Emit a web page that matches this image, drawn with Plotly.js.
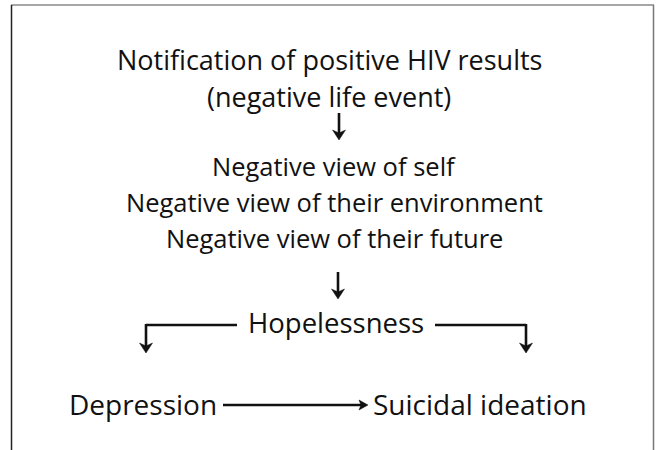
<!DOCTYPE html>
<html><head><meta charset="utf-8">
<script src="https://cdn.plot.ly/plotly-3.0.1.min.js"></script>
<style>html,body{margin:0;padding:0;background:#fff}#c{width:657px;height:450px}</style>
</head><body><div id="c"></div>
<script>
// Content
const topLines = ["Notification of positive HIV results", "(negative life event)"];
const viewLines = ["Negative view of self", "Negative view of their environment", "Negative view of their future"];
const hubLabel = "Hopelessness";
const outcomeLabels = ["Depression", "Suicidal ideation"];

const FAM = "Open Sans, Noto Sans, sans-serif";
const annotations = [];
function txt(t, x, y, size, xanchor) {
  annotations.push({text: t, x: x, y: y, xref: "x", yref: "y", showarrow: false,
    xanchor: xanchor || "center", yanchor: "middle", font: {family: FAM, size: size, color: "#111"}});
}
topLines.forEach((t, i) => txt(t, 329, 59 + i * 37, 27));
viewLines.forEach((t, i) => txt(t, 334, 166 + i * 36, 25.5));
txt(hubLabel, 336, 322, 27.5);
txt(outcomeLabels[0], 219, 404, 28, "right");
txt(outcomeLabels[1], 371, 404, 28, "left");

const shapes = [];
const LW = 2.6, COL = "#111";
function seg(x0, y0, x1, y1) {
  shapes.push({type: "line", xref: "x", yref: "y", x0, y0, x1, y1, line: {color: COL, width: LW}});
}
function downHead(x, tip) {
  shapes.push({type: "path", xref: "x", yref: "y", path: `M${x-6.5},${tip-10} L${x},${tip-7} L${x+6.5},${tip-10} L${x},${tip} Z`,
    fillcolor: COL, line: {color: COL, width: 0.5}});
}
function rightHead(x, y) {
  shapes.push({type: "path", xref: "x", yref: "y", path: `M${x-9},${y-5} L${x-7},${y} L${x-9},${y+5} L${x},${y} Z`,
    fillcolor: COL, line: {color: COL, width: 0.5}});
}
// arrow 1
seg(339, 113, 339, 133); downHead(339, 140);
// arrow 2
seg(338, 272, 338, 292); downHead(338, 299);
// brackets
seg(146, 325, 237, 325); seg(146, 324, 146, 346); downHead(146, 353);
seg(435, 325, 526, 325); seg(526, 324, 526, 346); downHead(526, 353);
// horizontal arrow
seg(223, 405, 362, 405); rightHead(368, 405);
// frame
shapes.push({type: "line", xref: "x", yref: "y", x0: 11, y0: 5, x1: 654, y1: 5, line: {color: "#888", width: 1.5}});
shapes.push({type: "line", xref: "x", yref: "y", x0: 11.5, y0: 5, x1: 11.5, y1: 450, line: {color: "#222", width: 1.5}});
shapes.push({type: "line", xref: "x", yref: "y", x0: 653.5, y0: 5, x1: 653.5, y1: 450, line: {color: "#777", width: 1.5}});

const layout = {
  width: 657, height: 450, margin: {l: 0, r: 0, t: 0, b: 0},
  paper_bgcolor: "#fff", plot_bgcolor: "#fff", showlegend: false,
  xaxis: {range: [0, 657], visible: false, fixedrange: true},
  yaxis: {range: [450, 0], visible: false, fixedrange: true},
  annotations, shapes
};
Plotly.newPlot("c", [], layout, {displayModeBar: false, staticPlot: true});
</script></body></html>
